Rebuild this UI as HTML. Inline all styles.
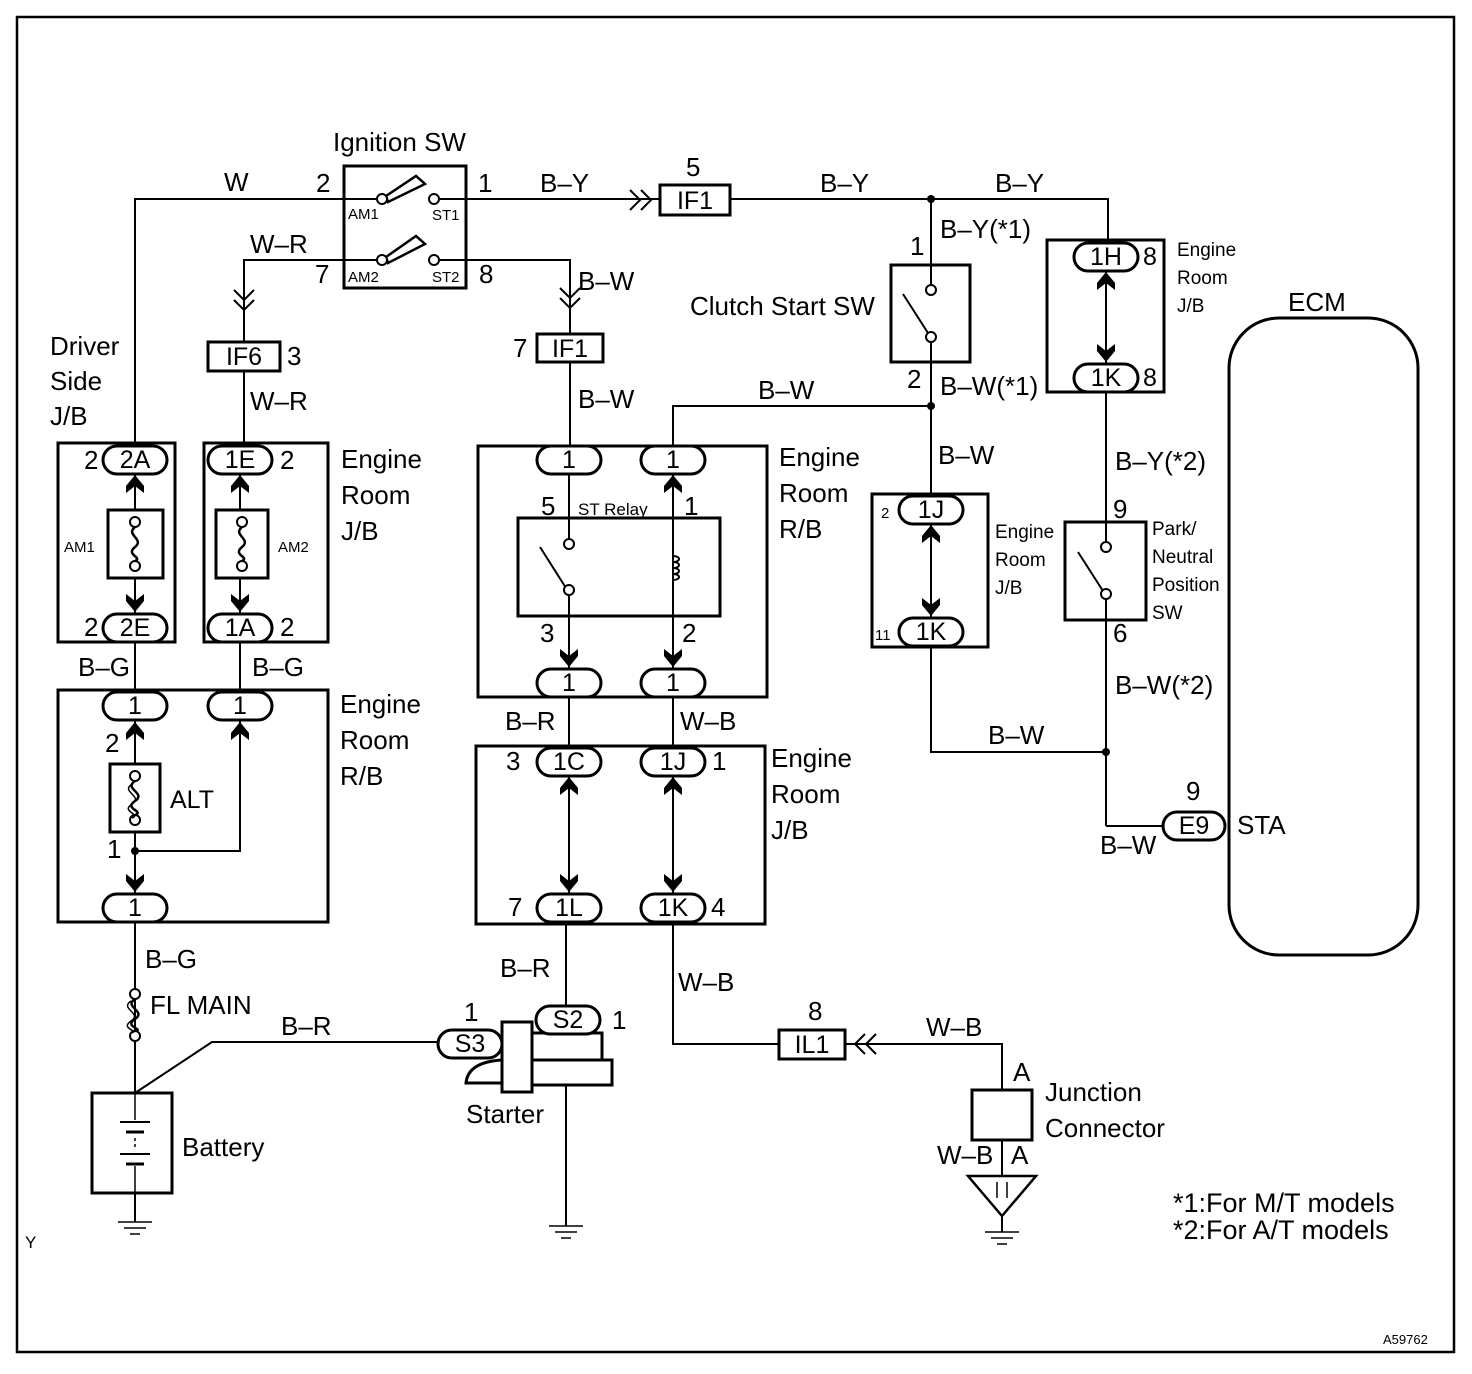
<!DOCTYPE html>
<html><head><meta charset="utf-8"><style>
html,body{margin:0;padding:0;background:#fff}
svg{display:block}
text{font-family:"Liberation Sans",Arial,sans-serif;fill:#000}
</style></head><body>
<svg width="1472" height="1374" viewBox="0 0 1472 1374" xmlns="http://www.w3.org/2000/svg">
<defs>
<g id="au"><polygon points="0,0 9,11 9,18 0,11 -9,18 -9,11" fill="#000"/></g>
<g id="ad"><polygon points="0,0 9,-11 9,-18 0,-11 -9,-18 -9,-11" fill="#000"/></g>
</defs>
<rect x="17" y="17" width="1437" height="1335" fill="none" stroke="#000" stroke-width="2.5"/>
<g fill="none" stroke="#000" stroke-width="2">
<polyline points="344,199 135,199 135,446"/>
<polyline points="466,199 1108,199 1108,243"/>
<polyline points="344,260 244,260 244,342"/>
<polyline points="466,260 570,260 570,334"/>
<line x1="244" y1="371" x2="244" y2="446"/>
<line x1="570" y1="362" x2="570" y2="446"/>
<line x1="135" y1="642" x2="135" y2="692"/>
<line x1="240" y1="642" x2="240" y2="692"/>
<line x1="135" y1="922" x2="135" y2="1093"/>
<line x1="135" y1="1193" x2="135" y2="1222"/>
<polyline points="135,1093 212,1042 440,1042"/>
<line x1="566" y1="924" x2="566" y2="1007"/>
<line x1="566" y1="1085" x2="566" y2="1226"/>
<line x1="569" y1="697" x2="569" y2="748"/>
<line x1="673" y1="697" x2="673" y2="748"/>
<polyline points="673,446 673,406 931,406"/>
<polyline points="673,924 673,1044 779,1044"/>
<polyline points="845,1044 1002,1044 1002,1090"/>
<line x1="1002" y1="1140" x2="1002" y2="1176"/>
<line x1="1002" y1="1216" x2="1002" y2="1232"/>
<line x1="931" y1="199" x2="931" y2="285"/>
<line x1="931" y1="342" x2="931" y2="496"/>
<polyline points="931,647 931,752 1106,752"/>
<line x1="1106" y1="392" x2="1106" y2="542"/>
<line x1="1106" y1="599" x2="1106" y2="826"/>
<line x1="1106" y1="826" x2="1163" y2="826"/>
<line x1="135" y1="474" x2="135" y2="614"/>
<line x1="240" y1="474" x2="240" y2="614"/>
<line x1="135" y1="720" x2="135" y2="894"/>
<polyline points="135,851 240,851 240,720"/>
<line x1="569" y1="474" x2="569" y2="669"/>
<line x1="673" y1="474" x2="673" y2="669"/>
<line x1="569" y1="776" x2="569" y2="894"/>
<line x1="673" y1="776" x2="673" y2="894"/>
<line x1="931" y1="524" x2="931" y2="618"/>
<line x1="1106" y1="271" x2="1106" y2="364"/>
</g>
<g fill="none" stroke="#000" stroke-width="3">
<rect x="344" y="166" width="122" height="122"/>
<rect x="58" y="443" width="117" height="199"/>
<rect x="204" y="443" width="124" height="199"/>
<rect x="58" y="690" width="270" height="232"/>
<rect x="478" y="446" width="289" height="251"/>
<rect x="476" y="746" width="289" height="178"/>
<rect x="891" y="265" width="79" height="97"/>
<rect x="872" y="494" width="116" height="153"/>
<rect x="1047" y="240" width="117" height="152"/>
<rect x="1065" y="522" width="81" height="98"/>
<rect x="1229" y="318" width="189" height="637" rx="50"/>
<rect x="660" y="185" width="70" height="30" fill="#fff"/>
<rect x="208" y="342" width="72" height="29" fill="#fff"/>
<rect x="537" y="334" width="66" height="28" fill="#fff"/>
<rect x="779" y="1030" width="66" height="29" fill="#fff"/>
<rect x="108" y="510" width="55" height="68" fill="#fff"/>
<rect x="216" y="510" width="52" height="68" fill="#fff"/>
<rect x="110" y="764" width="50" height="68" fill="#fff"/>
<rect x="518" y="518" width="202" height="98" fill="#fff"/>
<rect x="92" y="1093" width="80" height="100" fill="#fff"/>
<rect x="972" y="1090" width="60" height="50" fill="#fff"/>
<rect x="532" y="1033" width="70" height="27" fill="#fff"/>
<rect x="532" y="1060" width="80" height="25" fill="#fff"/>
<rect x="502" y="1022" width="30" height="70" fill="#fff"/>
<path d="M466,1083 Q468,1062 502,1060 L502,1083 Z" fill="#fff"/>
</g>
<g fill="none" stroke="#000" stroke-width="2">
<line x1="569" y1="518" x2="569" y2="540"/>
<line x1="569" y1="594" x2="569" y2="616"/>
<line x1="540" y1="547" x2="566" y2="588"/>
<line x1="673" y1="518" x2="673" y2="616"/>
<path d="M673,556 c8,0 8,6 0,6 c8,0 8,6 0,6 c8,0 8,6 0,6 c8,0 8,6 0,6" stroke-width="2"/>
<line x1="903" y1="294" x2="928" y2="333"/>
<line x1="1078" y1="552" x2="1103" y2="591"/>
<line x1="440" y1="199" x2="466" y2="199"/>
<line x1="440" y1="260" x2="466" y2="260"/>
<line x1="344" y1="199" x2="376" y2="199"/>
<line x1="344" y1="260" x2="376" y2="260"/>
<polygon points="386,196 416,176 425,184 388,202" stroke-width="2.5"/>
<polygon points="386,257 416,236 425,244 388,263" stroke-width="2.5"/>
</g>
<g fill="#fff" stroke="#000" stroke-width="2">
<circle cx="382" cy="199" r="5"/><circle cx="434" cy="199" r="5"/>
<circle cx="382" cy="260" r="5"/><circle cx="434" cy="260" r="5"/>
<circle cx="569" cy="544" r="5"/><circle cx="569" cy="590" r="5"/>
<circle cx="931" cy="290" r="5"/><circle cx="931" cy="337" r="5"/>
<circle cx="1106" cy="547" r="5"/><circle cx="1106" cy="594" r="5"/>
<circle cx="135" cy="522" r="5"/><circle cx="135" cy="566" r="5"/>
<circle cx="242" cy="522" r="5"/><circle cx="242" cy="566" r="5"/>
<circle cx="135" cy="776" r="5"/><circle cx="135" cy="820" r="5"/>
<circle cx="135" cy="994" r="5"/><circle cx="135" cy="1036" r="5"/>
</g>
<g fill="none" stroke="#000" stroke-width="2.5">
<path d="M135,527 c-10,8 10,12 0,20 c-10,8 8,10 0,14"/>
<path d="M242,527 c-10,8 10,12 0,20 c-10,8 8,10 0,14"/>
<path d="M135,781 c-12,8 12,12 0,20 c-12,8 10,10 0,14"/>
<path d="M132,784 c-12,8 12,12 0,20 c-12,8 10,10 0,14" stroke-width="1.5"/>
<path d="M135,999 c-12,8 12,12 0,20 c-12,8 10,10 0,12"/>
<path d="M131,1001 c-12,8 12,12 0,20 c-12,8 10,10 0,12" stroke-width="1.5"/>
</g>
<g fill="#000"><circle cx="931" cy="199" r="4"/><circle cx="931" cy="406" r="4"/><circle cx="1106" cy="752" r="4"/><circle cx="135" cy="851" r="4"/></g>
<g fill="none" stroke="#000" stroke-width="2">
<polyline points="630,190 640,200 630,210"/><polyline points="641,190 651,200 641,210"/>
<polyline points="234,290 244,300 254,290"/><polyline points="234,300 244,310 254,300"/>
<polyline points="560,288 570,298 580,288"/><polyline points="560,298 570,308 580,298"/>
<polyline points="865,1034 855,1044 865,1054"/><polyline points="876,1034 866,1044 876,1054"/>
</g>
<g>
<use href="#au" x="135" y="475"/><use href="#ad" x="135" y="612"/>
<use href="#au" x="240" y="475"/><use href="#ad" x="240" y="612"/>
<use href="#au" x="135" y="722"/><use href="#ad" x="135" y="892"/>
<use href="#au" x="240" y="722"/>
<use href="#au" x="673" y="475"/>
<use href="#ad" x="569" y="667"/><use href="#ad" x="673" y="667"/>
<use href="#au" x="569" y="777"/><use href="#au" x="673" y="777"/>
<use href="#ad" x="569" y="892"/><use href="#ad" x="673" y="892"/>
<use href="#au" x="931" y="525"/><use href="#ad" x="931" y="616"/>
<use href="#au" x="1106" y="272"/><use href="#ad" x="1106" y="362"/>
</g>
<g fill="#fff" stroke="#000" stroke-width="3">
<rect x="103" y="446" width="64" height="28" rx="14"/>
<rect x="103" y="614" width="64" height="28" rx="14"/>
<rect x="208" y="446" width="64" height="28" rx="14"/>
<rect x="208" y="614" width="64" height="28" rx="14"/>
<rect x="103" y="692" width="64" height="28" rx="14"/>
<rect x="208" y="692" width="64" height="28" rx="14"/>
<rect x="103" y="894" width="64" height="28" rx="14"/>
<rect x="537" y="446" width="64" height="28" rx="14"/>
<rect x="641" y="446" width="64" height="28" rx="14"/>
<rect x="537" y="669" width="64" height="28" rx="14"/>
<rect x="641" y="669" width="64" height="28" rx="14"/>
<rect x="537" y="748" width="64" height="28" rx="14"/>
<rect x="641" y="748" width="64" height="28" rx="14"/>
<rect x="537" y="894" width="64" height="28" rx="14"/>
<rect x="641" y="894" width="64" height="28" rx="14"/>
<rect x="899" y="496" width="64" height="28" rx="14"/>
<rect x="899" y="618" width="64" height="28" rx="14"/>
<rect x="1074" y="243" width="64" height="28" rx="14"/>
<rect x="1074" y="364" width="64" height="28" rx="14"/>
<rect x="1163" y="812" width="62" height="28" rx="14"/>
<rect x="438" y="1030" width="64" height="28" rx="14"/>
<rect x="536" y="1006" width="64" height="28" rx="14"/>
</g>
<g stroke="#000" stroke-width="1.5" fill="none">
<line x1="118" y1="1222" x2="152" y2="1222"/><line x1="124" y1="1228" x2="146" y2="1228"/><line x1="130" y1="1234" x2="140" y2="1234"/>
<line x1="549" y1="1226" x2="583" y2="1226"/><line x1="555" y1="1232" x2="577" y2="1232"/><line x1="561" y1="1238" x2="571" y2="1238"/>
<line x1="985" y1="1232" x2="1019" y2="1232"/><line x1="991" y1="1238" x2="1013" y2="1238"/><line x1="997" y1="1244" x2="1007" y2="1244"/>
<polygon points="968,1176 1036,1176 1002,1216" stroke-width="2.5"/>
<line x1="997" y1="1182" x2="997" y2="1198"/><line x1="1007" y1="1182" x2="1007" y2="1198"/>
<line x1="135" y1="1093" x2="135" y2="1120"/><line x1="135" y1="1166" x2="135" y2="1193"/>
<line x1="120" y1="1122" x2="150" y2="1122" stroke-width="2"/><line x1="126" y1="1132" x2="144" y2="1132" stroke-width="3"/>
<line x1="120" y1="1154" x2="150" y2="1154" stroke-width="2"/><line x1="126" y1="1164" x2="144" y2="1164" stroke-width="3"/>
<line x1="135" y1="1138" x2="135" y2="1148" stroke-dasharray="3,3"/>
</g>
<g font-size="26">
<text x="333" y="151">Ignition SW</text>
<text x="224" y="191">W</text><text x="316" y="192">2</text><text x="478" y="192">1</text>
<text x="540" y="192">B–Y</text><text x="686" y="176">5</text><text x="820" y="192">B–Y</text><text x="995" y="192">B–Y</text>
<text x="250" y="253">W–R</text><text x="315" y="283">7</text><text x="479" y="283">8</text>
<text x="578" y="290">B–W</text><text x="287" y="365">3</text><text x="513" y="357">7</text>
<text x="50" y="355">Driver</text><text x="50" y="390">Side</text><text x="50" y="425">J/B</text>
<text x="250" y="410">W–R</text><text x="578" y="408">B–W</text>
<text x="940" y="238">B–Y(*1)</text><text x="910" y="255">1</text>
<text x="690" y="315">Clutch Start SW</text>
<text x="907" y="388">2</text><text x="940" y="395">B–W(*1)</text>
<text x="758" y="399">B–W</text><text x="1288" y="311">ECM</text>
<text x="341" y="468">Engine</text><text x="341" y="504">Room</text><text x="341" y="540">J/B</text>
<text x="84" y="469">2</text><text x="84" y="636">2</text><text x="280" y="469">2</text><text x="280" y="636">2</text>
<text x="78" y="676">B–G</text><text x="252" y="676">B–G</text>
<text x="779" y="466">Engine</text><text x="779" y="502">Room</text><text x="779" y="538">R/B</text>
<text x="938" y="464">B–W</text><text x="1115" y="470">B–Y(*2)</text>
<text x="541" y="515">5</text><text x="684" y="515">1</text>
<text x="540" y="642">3</text><text x="682" y="642">2</text>
<text x="1113" y="518">9</text><text x="1113" y="642">6</text>
<text x="1115" y="694">B–W(*2)</text>
<text x="340" y="713">Engine</text><text x="340" y="749">Room</text><text x="340" y="785">R/B</text>
<text x="105" y="752">2</text><text x="107" y="858">1</text>
<text x="505" y="730">B–R</text><text x="680" y="730">W–B</text>
<text x="988" y="744">B–W</text>
<text x="771" y="767">Engine</text><text x="771" y="803">Room</text><text x="771" y="839">J/B</text>
<text x="506" y="770">3</text><text x="712" y="770">1</text><text x="508" y="916">7</text><text x="711" y="916">4</text>
<text x="1186" y="800">9</text><text x="1237" y="834">STA</text><text x="1100" y="854">B–W</text>
<text x="145" y="968">B–G</text><text x="150" y="1014">FL MAIN</text><text x="281" y="1035">B–R</text>
<text x="500" y="977">B–R</text><text x="678" y="991">W–B</text>
<text x="464" y="1021">1</text><text x="612" y="1029">1</text><text x="808" y="1020">8</text>
<text x="926" y="1036">W–B</text><text x="1013" y="1081">A</text>
<text x="1045" y="1101">Junction</text><text x="1045" y="1137">Connector</text>
<text x="937" y="1164">W–B</text><text x="1011" y="1164">A</text>
<text x="466" y="1123">Starter</text><text x="182" y="1156">Battery</text>
</g>
<g font-size="27">
<text x="1173" y="1212">*1:For M/T models</text><text x="1173" y="1239">*2:For A/T models</text>
</g>
<g font-size="15">
<text x="348" y="219">AM1</text><text x="432" y="220">ST1</text>
<text x="348" y="282">AM2</text><text x="432" y="282">ST2</text>
<text x="578" y="515" font-size="17">ST Relay</text>
<text x="64" y="552">AM1</text><text x="278" y="552">AM2</text>
<text x="881" y="518">2</text><text x="875" y="640">11</text>
</g>
<g font-size="19">
<text x="995" y="538">Engine</text><text x="995" y="566">Room</text><text x="995" y="594">J/B</text>
<text x="1177" y="256">Engine</text><text x="1177" y="284">Room</text><text x="1177" y="312">J/B</text>
<text x="1152" y="535">Park/</text><text x="1152" y="563">Neutral</text><text x="1152" y="591">Position</text><text x="1152" y="619">SW</text>
<text x="25" y="1248" font-size="17">Y</text>
</g>
<text x="1383" y="1344" font-size="13">A59762</text>
<g font-size="25" text-anchor="middle">
<text x="135" y="468">2A</text><text x="135" y="636">2E</text>
<text x="240" y="468">1E</text><text x="240" y="636">1A</text>
<text x="135" y="714">1</text><text x="240" y="714">1</text><text x="135" y="916">1</text>
<text x="192" y="808">ALT</text>
<text x="569" y="468">1</text><text x="673" y="468">1</text><text x="569" y="691">1</text><text x="673" y="691">1</text>
<text x="569" y="770">1C</text><text x="673" y="770">1J</text><text x="569" y="916">1L</text><text x="673" y="916">1K</text>
<text x="931" y="518">1J</text><text x="931" y="640">1K</text>
<text x="1106" y="265">1H</text><text x="1106" y="386">1K</text><text x="1150" y="265">8</text><text x="1150" y="386">8</text>
<text x="1194" y="834">E9</text>
<text x="470" y="1052">S3</text><text x="568" y="1028">S2</text>
<text x="695" y="209">IF1</text><text x="244" y="365">IF6</text><text x="570" y="357">IF1</text><text x="812" y="1053">IL1</text>
</g>
</svg>
</body></html>
